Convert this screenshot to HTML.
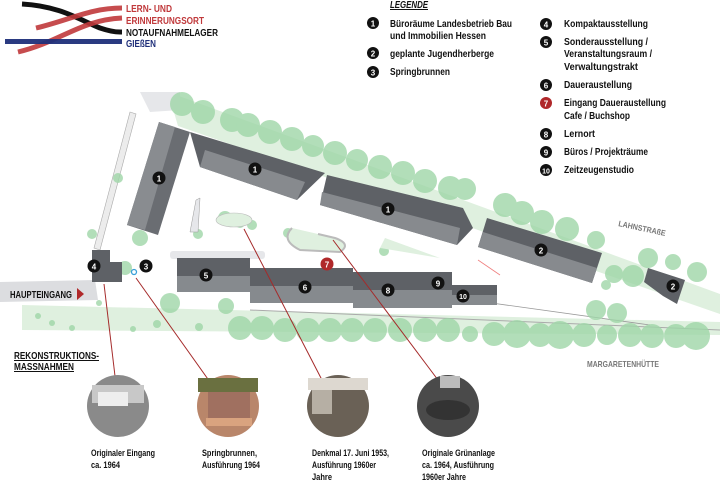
<!DOCTYPE html>
<html><head><meta charset="utf-8"><style>
html,body{margin:0;padding:0;background:#fff;}
svg{display:block;}
text{font-family:"Liberation Sans Narrow","Liberation Sans",sans-serif;font-weight:bold;}
</style></head><body>
<svg width="720" height="480" viewBox="0 0 720 480" xmlns="http://www.w3.org/2000/svg">
<!-- logo -->
<path d="M22,4 C60,6 80,20 100,28 C115,33 120,32 122,32" stroke="#111" stroke-width="5" fill="none"/>
<path d="M36,28 C70,20 90,8 122,8" stroke="#c0393b" stroke-width="5" fill="none" opacity="0.9"/>
<path d="M18,52 C60,42 80,20 122,18" stroke="#c0393b" stroke-width="5" fill="none" opacity="0.9"/>
<rect x="5" y="39" width="117" height="5" fill="#1f2f7a" opacity="0.95"/>
<g font-size="10.5">
<text x="126" y="12" fill="#c0393b" textLength="46" lengthAdjust="spacingAndGlyphs">LERN- UND</text>
<text x="126" y="24" fill="#c0393b" textLength="78" lengthAdjust="spacingAndGlyphs">ERINNERUNGSORT</text>
<text x="126" y="36" fill="#111" textLength="92" lengthAdjust="spacingAndGlyphs">NOTAUFNAHMELAGER</text>
<text x="126" y="47" fill="#1f2f7a" textLength="30" lengthAdjust="spacingAndGlyphs">GIEßEN</text>
</g>

<!-- legend -->
<text x="390" y="8" font-size="10" font-style="italic" fill="#111" text-decoration="underline" textLength="38" lengthAdjust="spacingAndGlyphs">LEGENDE</text>
<g font-size="10" fill="#111">
<circle cx="373" cy="23" r="6" fill="#111"/><text x="373" y="26.5" font-size="8" fill="#fff" text-anchor="middle">1</text>
<text x="390" y="27" textLength="122" lengthAdjust="spacingAndGlyphs">Büroräume Landesbetrieb Bau</text><text x="390" y="39" textLength="96" lengthAdjust="spacingAndGlyphs">und Immobilien Hessen</text>
<circle cx="373" cy="53" r="6" fill="#111"/><text x="373" y="56.5" font-size="8" fill="#fff" text-anchor="middle">2</text>
<text x="390" y="57" textLength="104" lengthAdjust="spacingAndGlyphs">geplante Jugendherberge</text>
<circle cx="373" cy="72" r="6" fill="#111"/><text x="373" y="75.5" font-size="8" fill="#fff" text-anchor="middle">3</text>
<text x="390" y="75" textLength="60" lengthAdjust="spacingAndGlyphs">Springbrunnen</text>
<circle cx="546" cy="24" r="6" fill="#111"/><text x="546" y="27.5" font-size="8" fill="#fff" text-anchor="middle">4</text>
<text x="564" y="27" textLength="84" lengthAdjust="spacingAndGlyphs">Kompaktausstellung</text>
<circle cx="546" cy="42" r="6" fill="#111"/><text x="546" y="45.5" font-size="8" fill="#fff" text-anchor="middle">5</text>
<text x="564" y="45" textLength="84" lengthAdjust="spacingAndGlyphs">Sonderausstellung /</text><text x="564" y="57" textLength="88" lengthAdjust="spacingAndGlyphs">Veranstaltungsraum /</text><text x="564" y="70" textLength="74" lengthAdjust="spacingAndGlyphs">Verwaltungstrakt</text>
<circle cx="546" cy="85" r="6" fill="#111"/><text x="546" y="88.5" font-size="8" fill="#fff" text-anchor="middle">6</text>
<text x="564" y="88" textLength="68" lengthAdjust="spacingAndGlyphs">Daueraustellung</text>
<circle cx="546" cy="103" r="6" fill="#b0282a"/><text x="546" y="106.5" font-size="8" fill="#fff" text-anchor="middle">7</text>
<text x="564" y="106" textLength="102" lengthAdjust="spacingAndGlyphs">Eingang Daueraustellung</text><text x="564" y="119" textLength="66" lengthAdjust="spacingAndGlyphs">Cafe / Buchshop</text>
<circle cx="546" cy="134" r="6" fill="#111"/><text x="546" y="137.5" font-size="8" fill="#fff" text-anchor="middle">8</text>
<text x="564" y="137" textLength="31" lengthAdjust="spacingAndGlyphs">Lernort</text>
<circle cx="546" cy="152" r="6" fill="#111"/><text x="546" y="155.5" font-size="8" fill="#fff" text-anchor="middle">9</text>
<text x="564" y="155" textLength="84" lengthAdjust="spacingAndGlyphs">Büros / Projekträume</text>
<circle cx="546" cy="170" r="6" fill="#111"/><text x="546" y="173.5" font-size="7" fill="#fff" text-anchor="middle">10</text>
<text x="564" y="173" textLength="70" lengthAdjust="spacingAndGlyphs">Zeitzeugenstudio</text>
</g>

<!-- ground bands -->
<polygon points="168,92 720,294 720,314 178,126" fill="#dff0df"/>
<polygon points="22,305 720,322 720,335 22,330" fill="#dff0df"/>
<polygon points="140,92 180,92 180,110 150,112" fill="#e6e7ea"/>
<polygon points="130,112 136,114 100,250 94,248" fill="#ececec" stroke="#aaa" stroke-width="0.6"/>
<polygon points="0,282 95,280 98,300 0,302" fill="#dcdde0"/>
<rect x="170" y="251" width="95" height="8" fill="#e6e7ea" rx="3"/>
<line x1="250" y1="310" x2="720" y2="330" stroke="#aaa" stroke-width="1"/>
<line x1="470" y1="300" x2="650" y2="325" stroke="#999" stroke-width="0.8"/>
<line x1="478" y1="260" x2="500" y2="275" stroke="#f08080" stroke-width="0.8"/>

<!-- trees -->
<g fill="#9fd6a8" opacity="0.8">
<circle cx="182" cy="104" r="12"/><circle cx="203" cy="112" r="12"/><circle cx="232" cy="120" r="12"/><circle cx="248" cy="125" r="12"/><circle cx="270" cy="132" r="12"/><circle cx="292" cy="139" r="12"/><circle cx="313" cy="146" r="11"/><circle cx="335" cy="153" r="12"/><circle cx="357" cy="160" r="11"/><circle cx="380" cy="167" r="12"/><circle cx="403" cy="173" r="12"/><circle cx="425" cy="181" r="12"/><circle cx="450" cy="188" r="12"/><circle cx="465" cy="189" r="11"/>
<circle cx="505" cy="205" r="12"/><circle cx="522" cy="213" r="12"/><circle cx="542" cy="222" r="12"/><circle cx="567" cy="229" r="12"/><circle cx="596" cy="240" r="9"/><circle cx="648" cy="258" r="10"/><circle cx="673" cy="262" r="8"/><circle cx="697" cy="272" r="10"/><circle cx="614" cy="274" r="9"/><circle cx="633" cy="276" r="11"/><circle cx="606" cy="285" r="5"/>
<circle cx="596" cy="310" r="10"/><circle cx="617" cy="313" r="10"/>
<circle cx="470" cy="334" r="8"/><circle cx="494" cy="334" r="12"/><circle cx="517" cy="334" r="14"/><circle cx="540" cy="335" r="12"/><circle cx="560" cy="335" r="14"/><circle cx="584" cy="335" r="12"/><circle cx="607" cy="335" r="10"/><circle cx="630" cy="335" r="12"/><circle cx="652" cy="336" r="12"/><circle cx="676" cy="336" r="12"/><circle cx="696" cy="336" r="14"/>
<circle cx="240" cy="328" r="12"/><circle cx="262" cy="328" r="12"/><circle cx="285" cy="330" r="12"/><circle cx="308" cy="330" r="12"/><circle cx="330" cy="330" r="12"/><circle cx="352" cy="330" r="12"/><circle cx="375" cy="330" r="12"/><circle cx="400" cy="330" r="12"/><circle cx="425" cy="330" r="12"/><circle cx="448" cy="330" r="12"/>
<circle cx="170" cy="303" r="10"/><circle cx="226" cy="306" r="8"/><circle cx="199" cy="327" r="4"/><circle cx="157" cy="324" r="4"/><circle cx="133" cy="329" r="3"/><circle cx="72" cy="328" r="3"/><circle cx="52" cy="323" r="3"/><circle cx="38" cy="316" r="3"/><circle cx="99" cy="303" r="3"/>
<circle cx="92" cy="234" r="5"/><circle cx="118" cy="178" r="5"/><circle cx="140" cy="238" r="8"/><circle cx="125" cy="268" r="7"/>
<circle cx="225" cy="218" r="7"/><circle cx="240" cy="223" r="5"/><circle cx="252" cy="225" r="5"/><circle cx="198" cy="234" r="5"/><circle cx="288" cy="233" r="5"/><circle cx="300" cy="242" r="7"/><circle cx="384" cy="251" r="5"/>
</g>
<ellipse cx="234" cy="220" rx="18" ry="7" fill="#dff0df" stroke="#bbb" stroke-width="0.6"/>
<path d="M292,228 Q280,240 300,250 L340,252 Q352,244 335,238 L318,234" fill="#dff0df" stroke="#bbb" stroke-width="2"/>
<polygon points="380,248 385,238 440,258" fill="#dff0df"/>
<polygon points="196,200 200,198 198,232 190,232" fill="#e6e7ea" stroke="#999" stroke-width="0.5"/>

<!-- buildings -->
<polygon points="159,122 190,132 158,235 127,225" fill="#6a6d72"/>
<polygon points="159,122 175,127 145,230 127,225" fill="#898c90"/>
<polygon points="190,132 325,173 297,200 200,167" fill="#5e6166"/>
<polygon points="205,150 305,182 297,200 200,167" fill="#878a8e"/>
<polygon points="327,175 463,208 473,228 457,245 320,205" fill="#5e6166"/>
<polygon points="322,192 460,228 457,245 320,205" fill="#878a8e"/>
<polygon points="487,218 602,253 592,283 478,247" fill="#5e6166"/>
<polygon points="483,232 597,268 592,283 478,247" fill="#878a8e"/>
<polygon points="648,268 685,280 677,304 663,296 644,282" fill="#5e6166"/>
<polygon points="92,250 110,250 110,262 122,262 122,282 92,282" fill="#5e6166"/>
<rect x="177" y="258" width="73" height="34" fill="#5e6166"/><rect x="177" y="276" width="73" height="16" fill="#868a8e"/>
<rect x="250" y="268" width="103" height="35" fill="#5e6166"/><rect x="250" y="286" width="103" height="17" fill="#868a8e"/>
<rect x="353" y="272" width="99" height="36" fill="#5e6166"/><rect x="353" y="290" width="99" height="18" fill="#868a8e"/>
<rect x="452" y="285" width="45" height="20" fill="#5e6166"/><rect x="452" y="295" width="45" height="10" fill="#868a8e"/>

<!-- markers -->
<g font-size="8" fill="#fff" text-anchor="middle">
<circle cx="159" cy="178" r="6.5" fill="#111"/><text x="159" y="181.5">1</text>
<circle cx="255" cy="169" r="6.5" fill="#111"/><text x="255" y="172.5">1</text>
<circle cx="388" cy="209" r="6.5" fill="#111"/><text x="388" y="212.5">1</text>
<circle cx="541" cy="250" r="6.5" fill="#111"/><text x="541" y="253.5">2</text>
<circle cx="673" cy="286" r="6.5" fill="#111"/><text x="673" y="289.5">2</text>
<circle cx="146" cy="266" r="6.5" fill="#111"/><text x="146" y="269.5">3</text>
<circle cx="94" cy="266" r="6.5" fill="#111"/><text x="94" y="269.5">4</text>
<circle cx="206" cy="275" r="6.5" fill="#111"/><text x="206" y="278.5">5</text>
<circle cx="305" cy="287" r="6.5" fill="#111"/><text x="305" y="290.5">6</text>
<circle cx="327" cy="264" r="6.5" fill="#b0282a"/><text x="327" y="267.5">7</text>
<circle cx="388" cy="290" r="6.5" fill="#111"/><text x="388" y="293.5">8</text>
<circle cx="438" cy="283" r="6.5" fill="#111"/><text x="438" y="286.5">9</text>
<circle cx="463" cy="296" r="6.5" fill="#111"/><text x="463" y="299" font-size="7">10</text>
</g>
<circle cx="134" cy="272" r="2.5" fill="none" stroke="#3aa0d8" stroke-width="1.3"/>

<!-- labels -->
<text x="10" y="298" font-size="10.5" fill="#111" textLength="62" lengthAdjust="spacingAndGlyphs">HAUPTEINGANG</text>
<polygon points="77,288 84,294 77,300" fill="#b0282a"/>
<text x="618" y="226" font-size="8" fill="#777" transform="rotate(12 618 226)" textLength="48" lengthAdjust="spacingAndGlyphs">LAHNSTRAßE</text>
<text x="587" y="367" font-size="8.5" fill="#777" textLength="72" lengthAdjust="spacingAndGlyphs">MARGARETENHÜTTE</text>
<text x="14" y="359" font-size="10" fill="#111" text-decoration="underline" textLength="85" lengthAdjust="spacingAndGlyphs">REKONSTRUKTIONS-</text>
<text x="14" y="370" font-size="10" fill="#111" text-decoration="underline" textLength="60" lengthAdjust="spacingAndGlyphs">MASSNAHMEN</text>

<!-- connectors -->
<g stroke="#a52a2a" stroke-width="1">
<line x1="104" y1="284" x2="115" y2="376"/>
<line x1="136" y1="278" x2="210" y2="382"/>
<line x1="244" y1="229" x2="322" y2="380"/>
<line x1="333" y1="240" x2="438" y2="380"/>
</g>
<!-- photos -->
<circle cx="118" cy="406" r="31" fill="#8a8a8a"/><rect x="92" y="385" width="52" height="18" fill="#c8c8c8"/><rect x="98" y="392" width="30" height="14" fill="#eee"/>
<circle cx="228" cy="406" r="31" fill="#b9866a"/><rect x="208" y="392" width="42" height="26" fill="#a07060"/><rect x="206" y="418" width="46" height="8" fill="#d9a37f"/><rect x="198" y="378" width="60" height="14" fill="#6a7040"/>
<circle cx="338" cy="406" r="31" fill="#6a6156"/><rect x="308" y="378" width="60" height="12" fill="#ddd8d0"/><rect x="312" y="390" width="20" height="24" fill="#b6afa4"/>
<circle cx="448" cy="406" r="31" fill="#4a4a4a"/><rect x="440" y="376" width="20" height="12" fill="#bbb"/><ellipse cx="448" cy="410" rx="22" ry="10" fill="#333"/>

<g font-size="9.5" fill="#111">
<text x="91" y="456" textLength="64" lengthAdjust="spacingAndGlyphs">Originaler Eingang</text><text x="91" y="468" textLength="29" lengthAdjust="spacingAndGlyphs">ca. 1964</text>
<text x="202" y="456" textLength="55" lengthAdjust="spacingAndGlyphs">Springbrunnen,</text><text x="202" y="468" textLength="58" lengthAdjust="spacingAndGlyphs">Ausführung 1964</text>
<text x="312" y="456" textLength="77" lengthAdjust="spacingAndGlyphs">Denkmal 17. Juni 1953,</text><text x="312" y="468" textLength="64" lengthAdjust="spacingAndGlyphs">Ausführung 1960er</text><text x="312" y="480" textLength="20" lengthAdjust="spacingAndGlyphs">Jahre</text>
<text x="422" y="456" textLength="73" lengthAdjust="spacingAndGlyphs">Originale Grünanlage</text><text x="422" y="468" textLength="72" lengthAdjust="spacingAndGlyphs">ca. 1964, Ausführung</text><text x="422" y="480" textLength="44" lengthAdjust="spacingAndGlyphs">1960er Jahre</text>
</g>
</svg>
</body></html>
